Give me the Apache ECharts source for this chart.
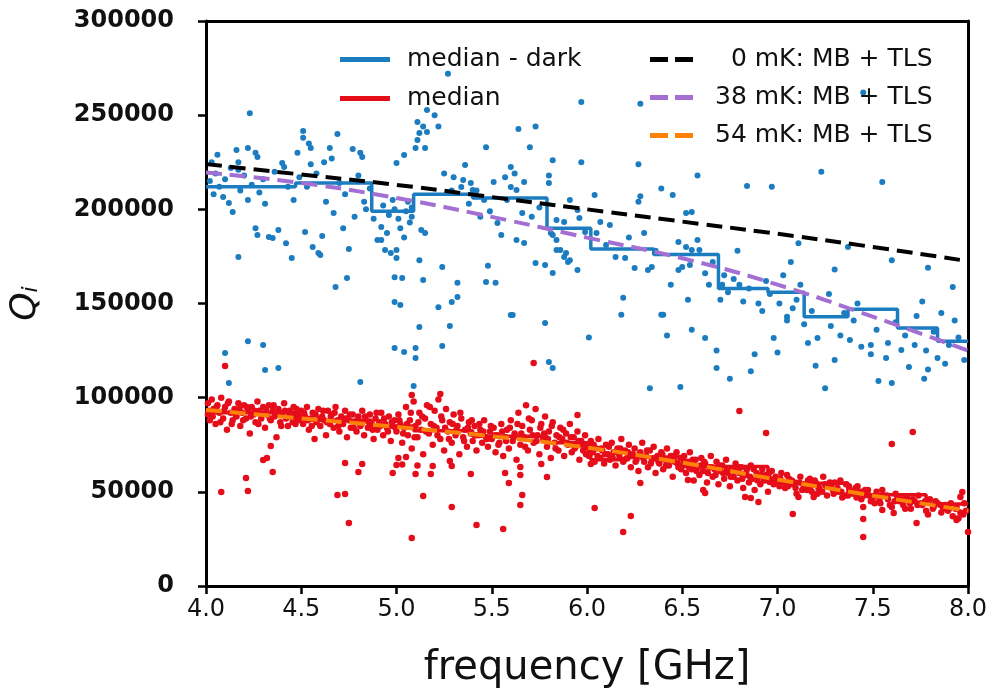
<!DOCTYPE html>
<html>
<head>
<meta charset="utf-8">
<script src="https://cdn.jsdelivr.net/npm/echarts@6/dist/echarts.min.js"></script>
<style>
  html, body { margin: 0; padding: 0; background: #fff; }
  #chart { width: 992px; height: 697px; }
</style>
</head>
<body>
<div id="chart"></div>
<script>
// x ticks / y ticks
let xTicks = [4.0, 4.5, 5.0, 5.5, 6.0, 6.5, 7.0, 7.5, 8.0];
let yTicks = [0, 50000, 100000, 150000, 200000, 250000, 300000];

// 暗态 Qi 散点 (median - dark)
let darkPts = [
    [4.02,215000],[4.03,225000],[4.04,208000],[4.05,219000],[4.06,229000],[4.07,212000],[4.09,206600],[4.10,216000],
    [4.12,203400],[4.14,198600],[4.13,222000],[4.16,231500],[4.17,225000],[4.17,221000],[4.17,174700],[4.18,210000],
    [4.20,218000],[4.22,232600],[4.23,251000],[4.22,205000],[4.24,213000],[4.26,230000],[4.27,227800],[4.26,190000],
    [4.27,186400],[4.28,209000],[4.30,216000],[4.31,203000],[4.33,185300],[4.35,184800],[4.36,220000],[4.38,189000],
    [4.40,224600],[4.41,222500],[4.42,182000],[4.43,212000],[4.45,174200],[4.46,205000],[4.48,230000],[4.49,217000],
    [4.51,241600],[4.51,238000],[4.54,235000],[4.55,232600],[4.52,188000],[4.53,212000],[4.55,224000],[4.56,180000],
    [4.58,219000],[4.59,176800],[4.60,175800],[4.61,185900],[4.62,225000],[4.63,204000],[4.65,232600],[4.66,227000],
    [4.67,198000],[4.68,158800],[4.69,240000],[4.70,214000],[4.72,190000],[4.73,208000],[4.74,163500],[4.75,179000],
    [4.77,232000],[4.78,196000],[4.80,218000],[4.81,230000],[4.82,227800],[4.83,204000],[4.84,200000],[4.86,211000],
    [4.88,195000],[4.90,183700],[4.92,190600],[4.92,183700],[4.94,178400],[4.95,187400],[4.93,202000],[4.96,197000],
    [4.97,176800],[4.98,205000],[4.99,164000],[4.99,150800],[4.99,200000],
    [5.00,174200],[5.00,178400],[5.00,224600],[5.01,195000],[5.02,190000],[5.03,163500],[5.02,149200],[5.04,228900],
    [5.04,185000],[5.05,199000],[5.06,204000],[5.07,193000],[5.08,201000],[5.08,196000],[5.10,232600],[5.11,236800],
    [5.11,246400],[5.12,240500],[5.12,173000],[5.13,189000],[5.14,244000],[5.14,162500],[5.15,187400],[5.15,232600],
    [5.16,241000],[5.16,252700],[5.20,250000],[5.22,244000],[5.22,148000],[5.24,169400],[5.25,219000],[5.27,272000],
    [5.29,150800],[5.29,210000],[5.30,217000],[5.32,153400],[5.32,161000],[5.34,211900],[5.35,215600],[5.36,223500],
    [5.38,203000],[5.39,214000],[5.40,210300],[5.42,210000],[5.44,196000],[5.46,205000],[5.47,233000],[5.47,161400],
    [5.48,170000],[5.49,199000],
    [5.51,214500],[5.52,161000],[5.53,192700],[5.55,186400],[5.57,217000],[5.58,205000],[5.60,222500],[5.60,211900],
    [5.60,143900],[5.62,219000],[5.63,183700],[5.63,210300],[5.64,242700],[5.66,198000],[5.67,182100],[5.67,214500],
    [5.70,233000],[5.71,196000],[5.73,244000],[5.73,171500],[5.75,201000],[5.78,170500],[5.80,218000],[5.80,214000],
    [5.81,187400],[5.82,226000],[5.82,186400],[5.82,166200],[5.84,194300],[5.84,183700],[5.84,178400],[5.86,178400],
    [5.88,193300],[5.88,174700],[5.89,176800],[5.90,172000],[5.91,205000],[5.91,173000],[5.95,199700],[5.95,167800],
    [5.96,195400],[5.97,225000],[5.97,257000],[5.99,188000],
    [6.01,132000],[6.04,207600],[6.05,187400],[6.07,193300],[6.10,181000],[6.12,191700],[6.15,174700],[6.18,144000],
    [6.19,153000],[6.20,174200],[6.22,185000],[6.25,168800],[6.27,224000],[6.27,204000],[6.28,207000],[6.28,256000],
    [6.30,187400],[6.32,167800],[6.33,105000],[6.34,169400],[6.36,178000],[6.39,211000],[6.39,144000],[6.40,144000],
    [6.42,133000],[6.44,160000],[6.45,207600],[6.48,182700],[6.48,167800],[6.49,105700],
    [6.50,169400],[6.52,180000],[6.52,198000],[6.53,152000],[6.54,170500],[6.55,178400],[6.55,198600],[6.55,136000],
    [6.58,218000],[6.58,183700],[6.59,178400],[6.62,131700],[6.64,160000],[6.68,125000],[6.68,115700],[6.70,152000],
    [6.72,165000],[6.75,110000],[6.79,178000],[6.80,160000],[6.84,212400],[6.86,114000],[6.88,123000],[6.90,150000],
    [6.94,162000],[6.97,212000],[6.98,131700],
    [7.00,124000],[7.03,165000],[7.05,141000],[7.05,143000],[7.07,172000],[7.08,147500],[7.11,182000],[7.12,160000],
    [7.16,129000],[7.20,117000],[7.21,131700],[7.23,220000],[7.25,105000],[7.27,155000],[7.30,168000],[7.30,120000],
    [7.35,145000],[7.37,180000],[7.38,130600],[7.42,150000],[7.45,262000],[7.49,128000],[7.49,123000],
    [7.53,108900],[7.55,214500],[7.58,129000],[7.60,173000],[7.60,107800],[7.62,140000],[7.65,125300],[7.69,116300],
    [7.73,143400],[7.76,151000],[7.77,110000],[7.78,125000],[7.79,169000],[7.79,115000],[7.82,135000],[7.86,145000],
    [7.90,128000],[7.92,158800],[7.95,132000],[7.98,120000],
    [4.10,123700],[4.12,107800],[4.22,130000],[4.30,128000],[4.31,114700],[4.38,115700],[4.81,108300],[4.99,126400],
    [5.04,124300],[5.10,126400],[5.10,121000],[5.12,137500],[5.09,106200],[5.24,127400],[5.28,138000],[5.61,143900],
    [5.78,139600],[5.80,119000],[5.82,115700],
    [6.62,166000],[6.66,172000],[6.71,160000],[6.74,156000],[6.77,163000],[6.82,151000],[6.85,158000],[6.92,146000],
    [6.96,155000],[7.01,150000],[7.10,152000],[7.14,139000],[7.18,146000],[7.28,138000],[7.33,133000],[7.40,141000],
    [7.44,127000],[7.52,136000],[7.57,121000],[7.67,133000],[7.72,128000],[7.84,121000],[7.88,118000],[7.93,141000]
];

// 光照 Qi 散点 (median)
let lightPts = [
    [4.01,97000],[4.01,91000],[4.02,88000],[4.03,99000],[4.04,94000],[4.05,86000],[4.06,96000],[4.07,92000],
    [4.08,100000],[4.09,89000],[4.10,95000],[4.11,83000],[4.12,98000],[4.13,92000],[4.14,88000],[4.15,94000],
    [4.16,90000],[4.17,97000],[4.18,85000],[4.19,92000],[4.20,96000],[4.21,89000],[4.22,93000],[4.23,81000],
    [4.24,95000],[4.25,91000],[4.26,87000],[4.27,98000],[4.28,93000],[4.29,89000],[4.30,95000],[4.31,84000],
    [4.32,91000],[4.33,96000],[4.34,88000],[4.35,93000],[4.36,90000],[4.37,79000],[4.38,94000],[4.39,87000],
    [4.40,92000],[4.41,97000],[4.42,89000],[4.43,85000],[4.44,93000],[4.45,90000],[4.46,95000],[4.47,86000],
    [4.48,91000],[4.49,88000],
    [4.50,93000],[4.51,86000],[4.52,90000],[4.53,95000],[4.54,83000],[4.55,89000],[4.56,92000],[4.57,78000],
    [4.58,87000],[4.59,94000],[4.60,85000],[4.61,90000],[4.62,88000],[4.63,80000],[4.64,93000],[4.65,86000],
    [4.66,91000],[4.67,84000],[4.68,95000],[4.69,88000],[4.70,82000],[4.71,90000],[4.72,86000],[4.73,93000],
    [4.74,79000],[4.75,88000],[4.76,84000],[4.77,91000],[4.78,87000],[4.79,82000],[4.80,90000],[4.81,85000],
    [4.82,93000],[4.83,80000],[4.84,88000],[4.85,84000],[4.86,91000],[4.87,86000],[4.88,78000],[4.89,89000],
    [4.90,83000],[4.91,87000],[4.92,92000],[4.93,80000],[4.94,86000],[4.95,84000],[4.96,90000],[4.97,77000],
    [4.98,85000],[4.99,88000],
    [5.00,82000],[5.01,91000],[5.02,86000],[5.03,76000],[5.04,84000],[5.05,95000],[5.06,80000],[5.07,88000],
    [5.08,73000],[5.09,98000],[5.10,85000],[5.11,79000],[5.12,92000],[5.13,83000],[5.14,70000],[5.15,89000],
    [5.16,96000],[5.17,81000],[5.18,86000],[5.19,75000],[5.20,93000],[5.21,84000],[5.22,99000],[5.23,78000],
    [5.24,88000],[5.25,72000],[5.26,94000],[5.27,82000],[5.28,87000],[5.29,76000],[5.30,91000],[5.31,80000],
    [5.32,85000],[5.33,70000],[5.34,89000],[5.35,79000],[5.36,83000],[5.37,74000],[5.38,87000],[5.39,81000],
    [5.40,77000],[5.41,85000],[5.42,72000],[5.43,80000],[5.44,83000],[5.45,76000],[5.46,88000],[5.47,79000],
    [5.48,74000],[5.49,82000],
    [5.50,78000],[5.51,84000],[5.52,71000],[5.53,80000],[5.54,76000],[5.55,86000],[5.56,69000],[5.57,79000],
    [5.58,83000],[5.59,73000],[5.60,88000],[5.61,77000],[5.62,81000],[5.63,67000],[5.64,92000],[5.65,75000],
    [5.66,85000],[5.67,79000],[5.68,96000],[5.69,72000],[5.70,83000],[5.71,88000],[5.72,76000],[5.73,94000],
    [5.74,80000],[5.75,70000],[5.76,86000],[5.77,78000],[5.78,90000],[5.79,74000],[5.80,82000],[5.81,68000],
    [5.82,87000],[5.83,76000],[5.84,80000],[5.85,72000],[5.86,84000],[5.87,78000],[5.88,69000],[5.89,81000],
    [5.90,75000],[5.91,86000],[5.92,71000],[5.93,79000],[5.94,74000],[5.95,82000],[5.96,67000],[5.97,77000],
    [5.98,72000],[5.99,80000],
    [6.00,74000],[6.01,69000],[6.02,77000],[6.03,71000],[6.04,66000],[6.05,73000],[6.06,78000],[6.07,68000],
    [6.08,72000],[6.09,65000],[6.10,75000],[6.11,70000],[6.12,67000],[6.13,76000],[6.14,71000],[6.15,64000],
    [6.16,73000],[6.17,69000],[6.18,78000],[6.19,66000],[6.20,72000],[6.21,68000],[6.22,75000],[6.23,63000],
    [6.24,70000],[6.25,73000],[6.26,67000],[6.27,61000],[6.28,71000],[6.29,76000],[6.30,66000],[6.31,69000],
    [6.32,63000],[6.33,72000],[6.34,67000],[6.35,74000],[6.36,60000],[6.37,69000],[6.38,65000],[6.39,71000],
    [6.40,62000],[6.41,67000],[6.42,73000],[6.43,64000],[6.44,69000],[6.45,58000],[6.46,66000],[6.47,71000],
    [6.48,63000],[6.49,68000],
    [6.50,64000],[6.51,69000],[6.52,60000],[6.53,66000],[6.54,71000],[6.55,62000],[6.56,56000],[6.57,67000],
    [6.58,63000],[6.59,59000],[6.60,68000],[6.61,61000],[6.62,65000],[6.63,55000],[6.64,63000],[6.65,69000],
    [6.66,58000],[6.67,62000],[6.68,66000],[6.69,54000],[6.70,61000],[6.71,64000],[6.72,57000],[6.73,67000],
    [6.74,60000],[6.75,53000],[6.76,62000],[6.77,58000],[6.78,65000],[6.79,56000],[6.80,60000],[6.81,63000],
    [6.82,52000],[6.83,59000],[6.84,62000],[6.85,55000],[6.86,64000],[6.87,57000],[6.88,51000],[6.89,60000],
    [6.90,58000],[6.91,54000],[6.92,62000],[6.93,56000],[6.94,59000],[6.95,50000],[6.96,57000],[6.97,61000],
    [6.98,54000],[6.99,58000],
    [7.00,56000],[7.02,60000],[7.04,52000],[7.06,57000],[7.08,54000],[7.10,49000],[7.12,58000],[7.14,53000],
    [7.16,56000],[7.18,50000],[7.20,55000],[7.22,52000],[7.24,58000],[7.26,48000],[7.28,53000],[7.30,55000],
    [7.32,50000],[7.34,47000],[7.36,54000],[7.38,51000],[7.40,49000],[7.42,53000],[7.44,46000],[7.46,51000],
    [7.48,48000],[7.01,53000],[7.05,59000],[7.09,55000],[7.13,51000],[7.17,57000],[7.21,49000],[7.25,54000],
    [7.29,51000],[7.33,56000],[7.37,48000],[7.41,52000],[7.45,50000],[7.49,45000],
    [7.50,47000],[7.52,50000],[7.54,44000],[7.56,48000],[7.58,46000],[7.60,42000],[7.62,49000],[7.64,45000],
    [7.66,43000],[7.68,47000],[7.70,41000],[7.72,45000],[7.74,48000],[7.76,43000],[7.78,40000],[7.80,46000],
    [7.82,42000],[7.84,44000],[7.86,39000],[7.88,43000],[7.90,41000],[7.92,37000],[7.94,42000],[7.96,39000],
    [7.98,44000],[7.51,44000],[7.55,51000],[7.59,43000],[7.63,47000],[7.67,41000],[7.71,46000],[7.75,44000],
    [7.79,38000],[7.83,45000],[7.87,41000],[7.91,44000],[7.95,36000],[7.99,40000],
    [4.015,93000],[4.035,90000],[4.055,95000],[4.075,87000],[4.095,93000],[4.115,97000],[4.135,86000],[4.155,91000],
    [4.175,94000],[4.195,88000],[4.215,95000],[4.235,90000],[4.255,93000],[4.275,86000],[4.295,91000],[4.315,94000],
    [4.335,89000],[4.355,96000],[4.375,91000],[4.395,85000],[4.415,93000],[4.435,90000],[4.455,87000],[4.475,94000],
    [4.495,90000],[4.515,92000],[4.535,88000],[4.555,85000],[4.575,91000],[4.595,89000],[4.615,93000],[4.635,87000],
    [4.655,90000],[4.675,92000],[4.695,85000],[4.715,87000],[4.735,89000],[4.755,91000],[4.775,84000],[4.795,88000],
    [4.815,86000],[4.835,90000],[4.855,87000],[4.875,83000],[4.895,92000],[4.915,85000],[4.935,89000],[4.955,82000],
    [4.975,87000],[4.995,84000],
    [5.015,88000],[5.035,81000],[5.055,86000],[5.075,92000],[5.095,79000],[5.115,87000],[5.135,90000],[5.155,82000],
    [5.175,95000],[5.195,85000],[5.215,80000],[5.235,90000],[5.255,84000],[5.275,78000],[5.295,86000],[5.315,83000],
    [5.335,92000],[5.355,77000],[5.375,84000],[5.395,88000],[5.415,80000],[5.435,86000],[5.455,82000],[5.475,78000],
    [5.495,85000],[5.515,80000],[5.535,75000],[5.555,82000],[5.575,77000],[5.595,84000],[5.615,79000],[5.635,86000],
    [5.655,81000],[5.675,74000],[5.695,89000],[5.715,80000],[5.735,77000],[5.755,84000],[5.775,81000],[5.795,78000],
    [5.815,85000],[5.835,73000],[5.855,79000],[5.875,83000],[5.895,76000],[5.915,79000],[5.935,73000],[5.955,77000],
    [5.975,75000],[5.995,70000],
    [6.015,72000],[6.035,75000],[6.055,69000],[6.075,73000],[6.095,70000],[6.115,74000],[6.135,68000],[6.155,71000],
    [6.175,73000],[6.195,67000],[6.215,71000],[6.235,69000],[6.255,66000],[6.275,70000],[6.295,68000],[6.315,72000],
    [6.335,65000],[6.355,68000],[6.375,66000],[6.395,70000],[6.415,64000],[6.435,67000],[6.455,69000],[6.475,65000],
    [6.495,62000],[6.515,66000],[6.535,63000],[6.555,67000],[6.575,61000],[6.595,64000],[6.615,66000],[6.635,60000],
    [6.655,63000],[6.675,59000],[6.695,64000],[6.715,60000],[6.735,62000],[6.755,58000],[6.775,61000],[6.795,63000],
    [6.815,57000],[6.835,60000],[6.855,58000],[6.875,62000],[6.895,56000],[6.915,59000],[6.935,57000],[6.955,60000],
    [6.975,55000],[6.995,57000],
    [7.015,57000],[7.035,55000],[7.055,53000],[7.075,56000],[7.095,52000],[7.115,55000],[7.135,54000],[7.155,51000],
    [7.175,53000],[7.195,56000],[7.215,52000],[7.235,50000],[7.255,53000],[7.275,55000],[7.295,49000],[7.315,52000],
    [7.335,50000],[7.355,48000],[7.375,53000],[7.395,50000],[7.415,47000],[7.435,50000],[7.455,48000],[7.475,51000],
    [7.495,47000],[7.535,46000],[7.575,48000],[7.615,45000],[7.655,46000],[7.695,44000],[7.735,43000],[7.775,45000],
    [7.815,41000],[7.855,43000],[7.895,40000],[7.935,41000],[7.975,38000],
    [4.10,116800],[4.08,49900],[4.21,57300],[4.22,50400],[4.30,66900],[4.32,68000],[4.35,60500],[4.34,74300],
    [4.69,48300],[4.73,48900],[4.75,33500],[4.73,65300],[4.82,64800],[4.80,60500],[4.98,60000],[5.00,64250],
    [5.03,64500],[5.01,68000],[5.05,68500],[5.08,25500],[5.10,59500],[5.11,64000],[5.14,47800],[5.18,59500],
    [5.19,63700],[5.28,66400],[5.29,63700],[5.29,42000],[5.39,59500],[5.42,32400],[5.56,30300],[5.57,60000],
    [5.59,54700],[5.65,58900],[5.65,63200],[5.66,48300],[5.65,43000],[5.76,64800],[5.79,57900],[6.02,64800],
    [6.04,41400],[5.72,118400],[5.23,102000],[5.08,101400],[5.95,90800],[6.80,92900],[6.94,81200],[7.71,81800],
    [7.60,75400],[6.23,37200],[6.19,28700],[7.08,38200],[7.45,42000],[7.45,35600],[7.45,26000],[7.73,33500],
    [8.00,28700],[6.28,54700],[7.97,49900],[7.96,47300],[7.94,35000],[6.53,56300],[6.61,51000],[6.62,49400],
    [6.83,47300],[6.86,46700],[6.90,44600],[7.11,47300],[7.19,47300],[7.55,40400],[7.61,38800]
];

// 分段中位数 (step)
let darkMedian = [
    [4.00,212000],[4.47,214000],[4.87,199000],[5.09,208000],[5.40,206000],[5.79,190000],[6.02,179000],
    [6.35,176000],[6.69,158000],[6.95,156000],[7.14,143000],[7.37,147000],[7.63,137000],[7.84,130000],[8.00,130000]
];
let lightMedian = [
    [4.00,92000],[4.47,88000],[4.87,85000],[5.09,82500],[5.40,79500],[5.79,76000],[6.02,67000],
    [6.22,68500],[6.50,63500],[6.95,54500],[7.37,48500],[7.78,43500],[8.00,43500]
];

// 模型 MB + TLS
let fitFreq = [4.0, 4.5, 5.0, 5.5, 6.0, 6.5, 7.0, 7.5, 8.0];
let fit0mK = [224000, 218500, 213000, 206500, 200000, 193500, 187000, 180000, 172500];
let fit38mK = [219500, 214000, 206000, 196000, 185000, 174000, 160000, 143000, 125000];
let fit54mK = [93500, 89000, 84500, 79500, 73500, 65500, 56500, 48000, 40000];

let font = 'DejaVu Sans';
let colors = {
    dark: '#1b7cc0',
    light: '#e60d1a',
    k0: '#000000',
    k38: '#a36fd2',
    k54: '#ff8208'
};

function pair(xs, ys) {
    return xs.map((x, i) => [x, ys[i]]);
}

let myChart = echarts.init(document.getElementById('chart'));

let dashIcon = 'path://M0,0H18V5H0Z M25,0H43V5H25Z';

let option = {
    animation: false,
    backgroundColor: '#fff',
    grid: { left: 200, right: 24, top: 21, bottom: 111 },
    legend: [{
        data: ['median - dark', 'median'],
        orient: 'vertical',
        left: 335,
        top: 42,
        itemWidth: 50,
        itemHeight: 5,
        itemGap: 14,
        icon: 'rect',
        textStyle: { fontFamily: font, fontSize: 25, color: '#111', padding: [0, 0, 0, 12] }
    }, {
        data: ['0 mK: MB + TLS', '38 mK: MB + TLS', '54 mK: MB + TLS'],
        orient: 'vertical',
        left: 645,
        top: 42,
        itemWidth: 43,
        itemHeight: 5,
        itemGap: 13,
        icon: dashIcon,
        formatter: name => name.indexOf('0 mK') === 0 ? '\u2007' + name : name,
        textStyle: { fontFamily: font, fontSize: 25, color: '#111', padding: [0, 0, 0, 17] }
    }],
    xAxis: [{
        type: 'value',
        min: 4,
        max: 8,
        interval: 0.5,
        name: 'frequency [GHz]',
        nameLocation: 'middle',
        nameGap: 63,
        nameTextStyle: { fontFamily: font, fontSize: 40, color: '#111' },
        axisLine: { show: true, lineStyle: { color: '#000', width: 3 } },
        axisTick: { show: true, inside: false, length: 8, lineStyle: { color: '#000', width: 2.5 } },
        axisLabel: {
            fontFamily: font, fontSize: 24, color: '#111', margin: 12,
            formatter: v => v.toFixed(1)
        },
        splitLine: { show: false }
    }, {
        type: 'value',
        position: 'top',
        min: 4,
        max: 8,
        axisLine: { show: true, onZero: false, lineStyle: { color: '#000', width: 3 } },
        axisTick: { show: false },
        axisLabel: { show: false },
        splitLine: { show: false }
    }],
    yAxis: [{
        type: 'value',
        min: 0,
        max: 300000,
        interval: 50000,
        name: '{q|Q}{i|i}',
        nameLocation: 'middle',
        nameRotate: 90,
        nameGap: 162,
        nameTextStyle: {
            rich: {
                q: { fontFamily: font, fontStyle: 'italic', fontSize: 36, color: '#111' },
                i: { fontFamily: font, fontStyle: 'italic', fontSize: 22, color: '#111', padding: [10, 0, 0, 0] }
            }
        },
        axisLine: { show: true, lineStyle: { color: '#000', width: 3 } },
        axisTick: { show: true, inside: false, length: 8, lineStyle: { color: '#000', width: 2.5 } },
        axisLabel: {
            fontFamily: font, fontSize: 24, fontWeight: 'bold', color: '#111', margin: 32,
            formatter: v => String(v)
        },
        splitLine: { show: false }
    }, {
        type: 'value',
        position: 'right',
        min: 0,
        max: 300000,
        axisLine: { show: true, onZero: false, lineStyle: { color: '#000', width: 3 } },
        axisTick: { show: false },
        axisLabel: { show: false },
        splitLine: { show: false }
    }],
    series: [{
        name: 'dark data',
        type: 'scatter',
        symbolSize: 6,
        itemStyle: { color: colors.dark, opacity: 1 },
        data: darkPts,
        z: 2
    }, {
        name: 'light data',
        type: 'scatter',
        symbolSize: 6.5,
        itemStyle: { color: colors.light, opacity: 1 },
        data: lightPts,
        z: 2
    }, {
        name: 'median - dark',
        type: 'line',
        step: 'end',
        showSymbol: false,
        itemStyle: { color: colors.dark },
        lineStyle: { color: colors.dark, width: 3.5 },
        data: darkMedian,
        z: 3
    }, {
        name: 'median',
        type: 'line',
        step: 'end',
        showSymbol: false,
        itemStyle: { color: colors.light },
        lineStyle: { color: colors.light, width: 3.5 },
        data: lightMedian,
        z: 3
    }, {
        name: '0 mK: MB + TLS',
        type: 'line',
        smooth: true,
        showSymbol: false,
        itemStyle: { color: colors.k0 },
        lineStyle: { color: colors.k0, width: 4, type: [16, 8] },
        data: pair(fitFreq, fit0mK),
        z: 4
    }, {
        name: '38 mK: MB + TLS',
        type: 'line',
        smooth: true,
        showSymbol: false,
        itemStyle: { color: colors.k38 },
        lineStyle: { color: colors.k38, width: 4, type: [16, 8] },
        data: pair(fitFreq, fit38mK),
        z: 4
    }, {
        name: '54 mK: MB + TLS',
        type: 'line',
        smooth: true,
        showSymbol: false,
        itemStyle: { color: colors.k54 },
        lineStyle: { color: colors.k54, width: 4, type: [16, 8] },
        data: pair(fitFreq, fit54mK),
        z: 4
    }]
};

myChart.setOption(option);
</script>
</body>
</html>
